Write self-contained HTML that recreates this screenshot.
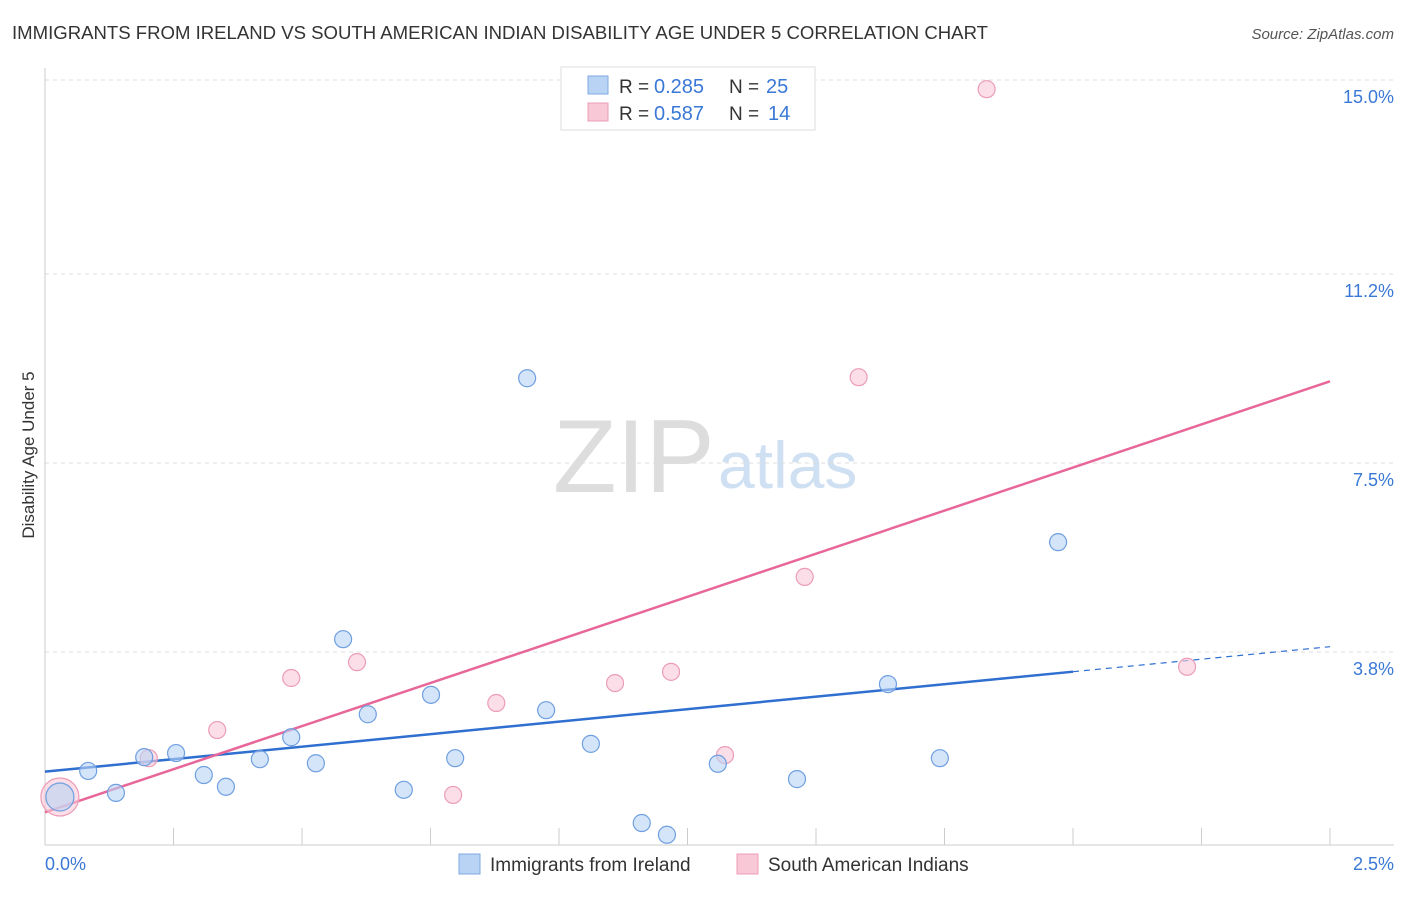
<!DOCTYPE html>
<html><head><meta charset="utf-8">
<style>
body{margin:0;background:#fff;font-family:"Liberation Sans",sans-serif;}
svg text{font-family:"Liberation Sans",sans-serif;}
</style></head>
<body>
<svg id="chart" width="1406" height="892">
<text x="12" y="39" font-size="18" fill="#333" textLength="976" lengthAdjust="spacingAndGlyphs">IMMIGRANTS FROM IRELAND VS SOUTH AMERICAN INDIAN DISABILITY AGE UNDER 5 CORRELATION CHART</text>
<text x="1394" y="39" font-size="15" fill="#555" font-style="italic" text-anchor="end">Source: ZipAtlas.com</text>
<text x="34" y="455" font-size="17" fill="#333" text-anchor="middle" transform="rotate(-90 34 455)">Disability Age Under 5</text>
<text x="553" y="492" font-size="104" fill="#ddd" font-family="Liberation Serif">ZIP</text>
<text x="718" y="488" font-size="66" fill="#cfe0f3">atlas</text>
<g id="grid"></g>
<g id="lines"></g>
<g id="points"></g>
<g>
<rect x="561" y="67" width="254" height="63" fill="#fff" stroke="#ddd"/>
<rect x="588" y="76" width="20" height="18" fill="#b9d3f5" stroke="#7fa9e0"/>
<rect x="588" y="103" width="20" height="18" fill="#f9c8d7" stroke="#ec9db6"/>
<text x="619" y="93" font-size="19" fill="#333">R = </text><text x="654" y="93" font-size="20" fill="#3a78d6">0.285</text>
<text x="729" y="93" font-size="19" fill="#333">N = </text><text x="766" y="93" font-size="20" fill="#3a78d6">25</text>
<text x="619" y="120" font-size="19" fill="#333">R = </text><text x="654" y="120" font-size="20" fill="#3a78d6">0.587</text>
<text x="729" y="120" font-size="19" fill="#333">N = </text><text x="768" y="120" font-size="20" fill="#3a78d6">14</text>
</g>
<g>
<rect x="459" y="854" width="21" height="20" fill="#b9d3f5" stroke="#7fa9e0"/>
<text x="490" y="871" font-size="19" fill="#333">Immigrants from Ireland</text>
<rect x="737" y="854" width="21" height="20" fill="#f9c8d7" stroke="#ec9db6"/>
<text x="768" y="871" font-size="19" fill="#333">South American Indians</text>
</g>
<text x="45" y="870" font-size="18" fill="#3a78d6">0.0%</text>
<text x="1394" y="870" font-size="18" fill="#3a78d6" text-anchor="end">2.5%</text>
</svg>
<script>
const yTicks=[15.0,11.2,7.5,3.8];
const yTickLabels=["15.0%","11.2%","7.5%","3.8%"];
const blueX=[0.029,0.084,0.138,0.193,0.255,0.309,0.352,0.418,0.479,0.527,0.580,0.628,0.698,0.751,0.798,0.938,0.975,1.062,1.161,1.210,1.309,1.463,1.640,1.741,1.971];
const blueY=[0.96,1.47,1.04,1.74,1.82,1.39,1.16,1.70,2.13,1.62,4.05,2.58,1.10,2.96,1.72,9.16,2.66,2.00,0.45,0.22,1.61,1.31,3.17,1.72,5.95];
const pinkX=[0.029,0.202,0.335,0.479,0.607,0.794,0.878,1.109,1.218,1.323,1.478,1.583,1.832,2.222];
const pinkY=[0.96,1.72,2.27,3.29,3.60,1.00,2.80,3.19,3.41,1.78,5.27,9.18,14.82,3.51];
const NS="http://www.w3.org/2000/svg";
const xs=v=>45+v/2.5*1285;
const ys=v=>846-v/3.75*191.5;
function mk(tag,attrs,parent){const e=document.createElementNS(NS,tag);for(const k in attrs)e.setAttribute(k,attrs[k]);document.getElementById(parent).appendChild(e);return e;}
yTicks.forEach((t,i)=>{
 const l=mk('line',{x1:45,x2:1394,y1:ys(t),y2:ys(t),stroke:'#ddd','stroke-dasharray':'4,4'},'grid');
 
 
 const tx=mk('text',{x:1394,y:ys(t)+23,'font-size':18,fill:'#3a78d6','text-anchor':'end'},'grid');
 tx.textContent=yTickLabels[i];
 
 
});
const ax=mk('line',{x1:45,x2:1394,y1:845,y2:845,stroke:'#ccc'},'grid');


const yax=mk('line',{x1:45,x2:45,y1:68,y2:845,stroke:'#ccc'},'grid');


for(let i=1;i<=10;i++){const t=mk('line',{x1:xs(i*0.25),x2:xs(i*0.25),y1:828,y2:845,stroke:'#ccc'},'grid');
 
 }
function fit(X,Y){const n=X.length;let mx=0,my=0;X.forEach((x,i)=>{mx+=x;my+=Y[i]});mx/=n;my/=n;let sxy=0,sxx=0;X.forEach((x,i)=>{sxy+=(x-mx)*(Y[i]-my);sxx+=(x-mx)**2});const b=sxy/sxx;return [my-b*mx,b];}
const [ba,bb]=fit(blueX,blueY),[pa,pb]=fit(pinkX,pinkY);
let l1=mk('line',{x1:xs(0),y1:ys(ba),x2:xs(2),y2:ys(ba+bb*2),stroke:'#2f6fd0','stroke-width':2.5},'lines');


let l2=mk('line',{x1:xs(2),y1:ys(ba+bb*2),x2:xs(2.5),y2:ys(ba+bb*2.5),stroke:'#2f6fd0','stroke-width':1.2,'stroke-dasharray':'6,5'},'lines');


let l3=mk('line',{x1:xs(0),y1:ys(pa),x2:xs(2.5),y2:ys(pa+pb*2.5),stroke:'#e8679a','stroke-width':2.5},'lines');


function pts(X,Y,fill,stroke,name){X.forEach((x,i)=>{const r=i===0?(name==='sai-point'?19:14):8.5;
 const c=mk('circle',{cx:xs(x),cy:ys(Y[i]),r:r,fill:fill,'fill-opacity':0.6,stroke:stroke,'stroke-width':1.2},'points');
 
 });}
pts(pinkX,pinkY,'#f9c8d7','#ec9db6','sai-point');
pts(blueX,blueY,'#b9d3f5','#6f9fe0','ireland-point');
</script>
</body></html>
